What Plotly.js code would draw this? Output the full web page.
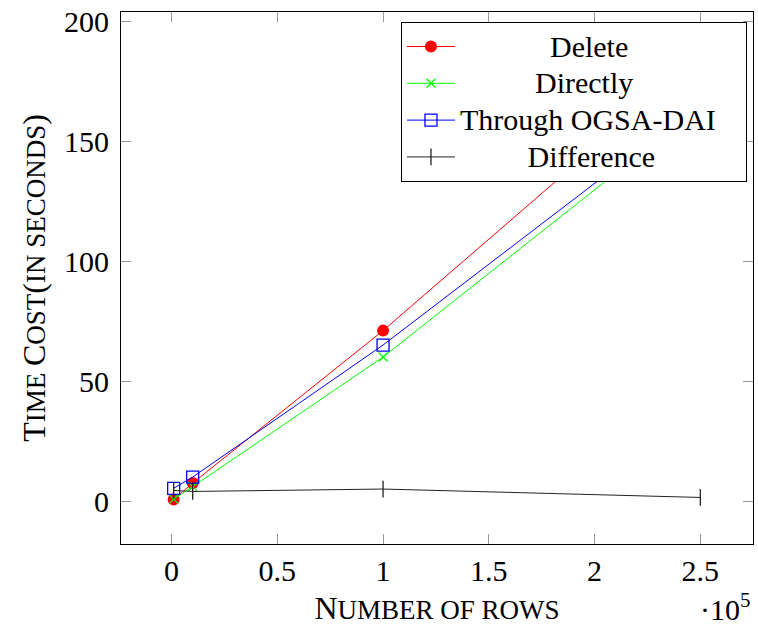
<!DOCTYPE html>
<html>
<head>
<meta charset="utf-8">
<script src="https://cdn.plot.ly/plotly-3.0.1.min.js"></script>
<style>
html,body{margin:0;padding:0;background:#fff;}
#chart{width:758px;height:626px;}
</style>
</head>
<body>
<div id="chart"></div>
<script>
// Data
const rows = [1000, 10000, 100000, 250000];
const deleteVals = [0.6, 7.5, 71, 185.3];
const directlyVals = [0.8, 6, 60, 164.5];
const throughVals = [5.3, 10, 65, 166];
const differenceVals = [4.4, 4, 5, 1.5];
const seriesNames = ["Delete", "Directly", "Through OGSA-DAI", "Difference"];
const xTickVals = [0, 50000, 100000, 150000, 200000, 250000];
const xTickText = ["0", "0.5", "1", "1.5", "2", "2.5"];
const yTickVals = [0, 50, 100, 150, 200];

const FONT = "'Liberation Serif', 'Times New Roman', serif";
const nb = n => "\u00a0".repeat(n);
const padL = [12, 10, 0, 9];
const padR = [12, 10, 0, 8];
const legName = (i) => '<span style="font-size:30px">' + nb(padL[i]) + seriesNames[i] + nb(padR[i]) + nb(3) + '</span>';

const traces = [
  {x: rows, y: deleteVals, name: legName(0), mode: "lines+markers",
   line: {color: "#ff0000", width: 1}, marker: {symbol: "circle", size: 12, color: "#ff0000"}},
  {x: rows, y: directlyVals, name: legName(1), mode: "lines+markers",
   line: {color: "#00ff00", width: 1}, marker: {symbol: "x-thin", size: 9, line: {color: "#00ff00", width: 1.3}}},
  {x: rows, y: throughVals, name: legName(2), mode: "lines+markers",
   line: {color: "#0000ff", width: 1}, marker: {symbol: "square-open", size: 12, color: "#0000ff", line: {width: 1.3}}},
  {x: rows, y: differenceVals, name: legName(3), mode: "lines+markers",
   line: {color: "#222222", width: 1}, marker: {symbol: "line-ns", size: 12, line: {color: "#222222", width: 1.3}}}
];

const sc = (big, small) => big + '<span style="font-size:27px">' + small + '</span>';

const layout = {
  width: 758, height: 626,
  margin: {l: 121, r: 5, t: 12, b: 82},
  paper_bgcolor: "#fff", plot_bgcolor: "#fff",
  font: {family: FONT, size: 30, color: "#000"},
  showlegend: true,
  legend: {
    x: 0.443, xanchor: "left", y: 0.981, yanchor: "top",
    bgcolor: "#fff", bordercolor: "#000", borderwidth: 1,
    font: {family: FONT, size: 26, color: "#000"},
    itemwidth: 48
  },
  xaxis: {
    range: [-23900, 274900], tickvals: xTickVals, ticktext: xTickText,
    ticks: "inside", ticklen: 10, tickcolor: "#999", tickwidth: 1,
    mirror: "ticks", showline: true, linecolor: "#000", linewidth: 1,
    showgrid: false, zeroline: false,
    tickfont: {family: FONT, size: 30},
    title: {text: sc("N", "UMBER OF ROWS"), font: {family: FONT, size: 32}, standoff: 10}
  },
  yaxis: {
    range: [-17.9, 203.75], tickvals: yTickVals,
    ticks: "inside", ticklen: 10, tickcolor: "#999", tickwidth: 1,
    mirror: "ticks", showline: true, linecolor: "#000", linewidth: 1,
    showgrid: false, zeroline: false, ticklabelstandoff: 5,
    tickfont: {family: FONT, size: 30},
    title: {text: sc("T", "IME ") + sc("C", "OST") + "(" + '<span style="font-size:27px">IN SECONDS</span>' + ")",
            font: {family: FONT, size: 32}, standoff: 8}
  },
  annotations: [
    {xref: "paper", yref: "paper", x: 1, y: 0, xanchor: "right", yanchor: "top", yshift: -42,
     showarrow: false, text: "·10<sup>5</sup>", font: {family: FONT, size: 30}}
  ]
};

Plotly.newPlot("chart", traces, layout, {displayModeBar: false, staticPlot: true});
</script>
</body>
</html>
